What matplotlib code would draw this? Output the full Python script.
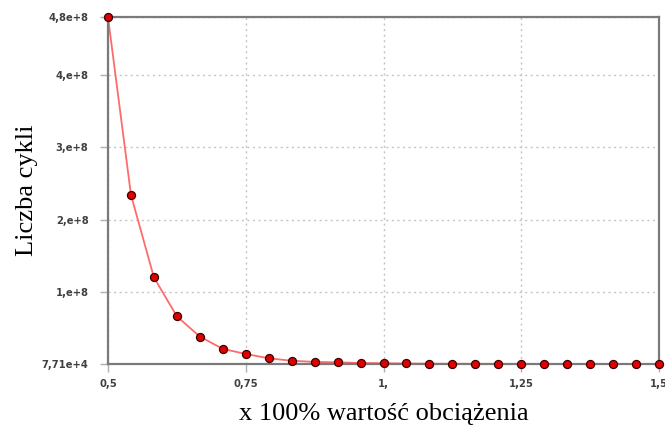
import matplotlib.pyplot as plt

# -------------------------
# Data
# -------------------------
load = [0.5, 0.5417, 0.5833, 0.625, 0.6667, 0.7083, 0.75, 0.7917, 0.8333,
        0.875, 0.9167, 0.9583, 1.0, 1.0417, 1.0833, 1.125, 1.1667, 1.2083,
        1.25, 1.2917, 1.3333, 1.375, 1.4167, 1.4583, 1.5]
cycles = [4.8e8, 2.34e8, 1.20e8, 0.66e8, 0.38e8, 0.21e8, 0.14e8, 0.08e8,
          0.046e8, 0.03e8, 0.024e8, 0.015e8, 0.011e8, 0.008e8, 5.0e5,
          4.0e5, 3.2e5, 2.6e5, 2.1e5, 1.8e5, 1.5e5, 1.3e5, 1.1e5, 9.0e4, 7.71e4]

x_ticks = [0.5, 0.75, 1.0, 1.25, 1.5]
x_tick_labels = ["0,5", "0,75", "1,", "1,25", "1,5"]
y_ticks = [7.71e4, 1e8, 2e8, 3e8, 4e8, 4.8e8]
y_tick_labels = ["7,71e+4", "1,e+8", "2,e+8", "3,e+8", "4,e+8", "4,8e+8"]

# -------------------------
# Plot
# -------------------------
fig = plt.figure(figsize=(6.65, 4.28), dpi=100)
ax = fig.add_axes([0.1624, 0.1495, 0.8286, 0.8105])

ax.plot(load, cycles, color="#ff6b6b", lw=1.3, zorder=2)
ax.plot(load, cycles, ls="none", marker="o", ms=5.8, mfc="#e00000",
        mec="#3a0000", mew=0.9, clip_on=False, zorder=4)

ax.set_xlim(0.5, 1.5)
ax.set_ylim(7.71e4, 4.8e8)

ax.set_xticks(x_ticks)
ax.set_xticklabels(x_tick_labels)
ax.set_yticks(y_ticks)
ax.set_yticklabels(y_tick_labels)

ax.grid(True, color="#c4c4c4", ls=(0, (1.5, 2.5)), lw=1.0)
ax.tick_params(axis="both", length=6, width=1, color="#b0b0b0",
               labelsize=7.2, labelcolor="#404040")
ax.tick_params(axis="y", pad=8)
ax.tick_params(axis="x", pad=5)
for lab in ax.get_xticklabels() + ax.get_yticklabels():
    lab.set_fontweight("bold")

for side in ["left", "bottom", "top", "right"]:
    ax.spines[side].set_color("#7a7a7a")
    ax.spines[side].set_linewidth(1.6)
    ax.spines[side].set_zorder(3)

ax.set_xlabel("x 100% wartość obciążenia", fontsize=19,
              family=["Liberation Serif", "DejaVu Serif"], labelpad=10)
ax.set_ylabel("Liczba cykli", fontsize=19,
              family=["Liberation Serif", "DejaVu Serif"], labelpad=3)

fig.savefig("out.png", dpi=100)
plt.close(fig)
